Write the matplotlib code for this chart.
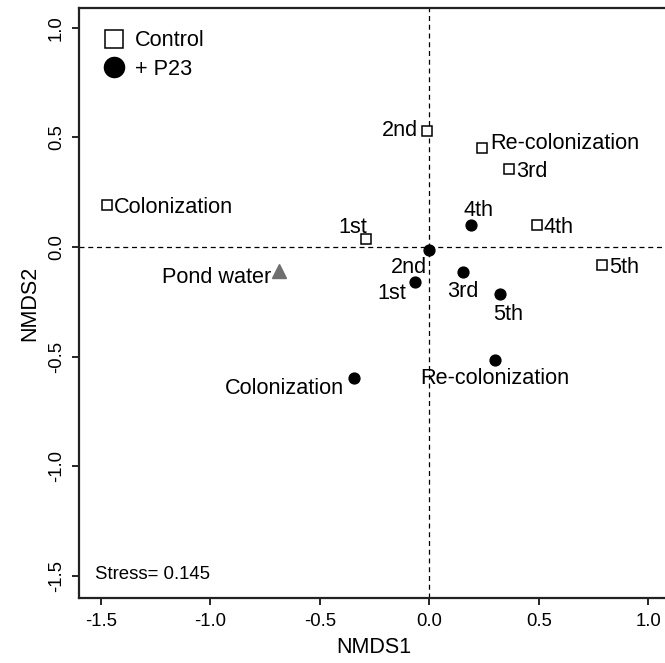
import matplotlib
matplotlib.use("Agg")
import matplotlib.pyplot as plt
from matplotlib.lines import Line2D

plt.rcParams['font.family'] = ['Liberation Sans', 'DejaVu Sans']

# ---- data ----
control_labels = ["Colonization", "1st", "2nd", "3rd", "4th", "5th", "Re-colonization"]
control_x = [-1.473, -0.289, -0.010, 0.365, 0.491, 0.790, 0.242]
control_y = [0.194, 0.039, 0.531, 0.356, 0.102, -0.080, 0.450]

p23_labels = ["Colonization", "1st", "2nd", "3rd", "4th", "5th", "Re-colonization"]
p23_x = [-0.342, -0.067, 0.000, 0.152, 0.190, 0.325, 0.301]
p23_y = [-0.599, -0.160, -0.015, -0.113, 0.102, -0.213, -0.513]

pond_label = "Pond water"
pond_x = [-0.687]
pond_y = [-0.110]

stress_text = "Stress= 0.145"
x_ticks = [-1.5, -1.0, -0.5, 0.0, 0.5, 1.0]
y_ticks = [-1.5, -1.0, -0.5, 0.0, 0.5, 1.0]

# ---- label placement (pixel offsets, ha) ----
control_off = [(7, 0, 'left'), (1, 14, 'right'), (-9.5, 3, 'right'), (6.5, 0, 'left'),
               (7, 0, 'left'), (7, 0, 'left'), (8, 7, 'left')]
p23_off = [(-10, -7.7, 'right'), (-8.6, -9, 'right'), (-2, -14.3, 'right'), (0, -16.7, 'center'),
           (8, 17, 'center'), (8, -18.7, 'center'), (0, -16, 'center')]
pond_off = (-8, -4.3, 'right')

DPI = 100
px = 72.0 / DPI
fig = plt.figure(figsize=(6.65, 6.63), dpi=DPI)
ax = fig.add_axes([79/665, 1 - 598/663, (668 - 79)/665, (598 - 8)/663])
ax.set_xlim(-1.6, 1.09)
ax.set_ylim(-1.6, 1.09)

ax.axhline(0, color='black', lw=0.9, ls=(0, (4, 3)), zorder=1)
ax.axvline(0, color='black', lw=0.9, ls=(0, (4, 3)), zorder=1)

ax.plot(control_x, control_y, ls='none', marker='s', ms=7.4, mfc='white', mec='black', mew=1.1, zorder=3)
ax.plot(p23_x, p23_y, ls='none', marker='o', ms=7.8, mfc='black', mec='black', zorder=3)
ax.plot(pond_x, pond_y, ls='none', marker='^', ms=10, mfc='#6f6f6f', mec='#6f6f6f', zorder=3)

fs = 15.6
for lab, x, y, (dx, dy, ha) in zip(control_labels, control_x, control_y, control_off):
    ax.annotate(lab, (x, y), xytext=(dx*px, dy*px), textcoords='offset points',
                ha=ha, va='center_baseline', fontsize=fs)
for lab, x, y, (dx, dy, ha) in zip(p23_labels, p23_x, p23_y, p23_off):
    ax.annotate(lab, (x, y), xytext=(dx*px, dy*px), textcoords='offset points',
                ha=ha, va='center_baseline', fontsize=fs)
ax.annotate(pond_label, (pond_x[0], pond_y[0]), xytext=(pond_off[0]*px, pond_off[1]*px),
            textcoords='offset points', ha=pond_off[2], va='center_baseline', fontsize=fs)

ax.text(-1.525, -1.483, stress_text, ha='left', va='center_baseline', fontsize=13.4)

handles = [Line2D([], [], ls='none', marker='s', ms=12.5, mfc='white', mec='black', mew=1.1),
           Line2D([], [], ls='none', marker='o', ms=14.5, mfc='black', mec='black')]
ax.legend(handles, ["Control", "+ P23"], loc='upper left', bbox_to_anchor=(0.041, 0.962),
          frameon=False, fontsize=fs, handlelength=1.0, handletextpad=0.45,
          labelspacing=0.35, borderaxespad=0, borderpad=0)

ax.set_xticks(x_ticks)
ax.set_yticks(y_ticks)
ax.set_xticklabels([f"{t:.1f}" for t in x_ticks])
ax.set_yticklabels([f"{t:.1f}" for t in y_ticks], rotation=90, va='center')
ax.tick_params(direction='out', length=5, width=1.2, labelsize=13.3, color='black')
ax.tick_params(axis='x', pad=6)
ax.tick_params(axis='y', pad=5)
for s in ['left', 'bottom', 'top']:
    ax.spines[s].set_linewidth(1.6)
    ax.spines[s].set_color('#222222')
ax.spines['right'].set_visible(False)

ax.set_xlabel("NMDS1", fontsize=15.5, labelpad=5)
ax.set_ylabel("NMDS2", fontsize=15.5, labelpad=6)

fig.savefig("out.png", dpi=DPI)
